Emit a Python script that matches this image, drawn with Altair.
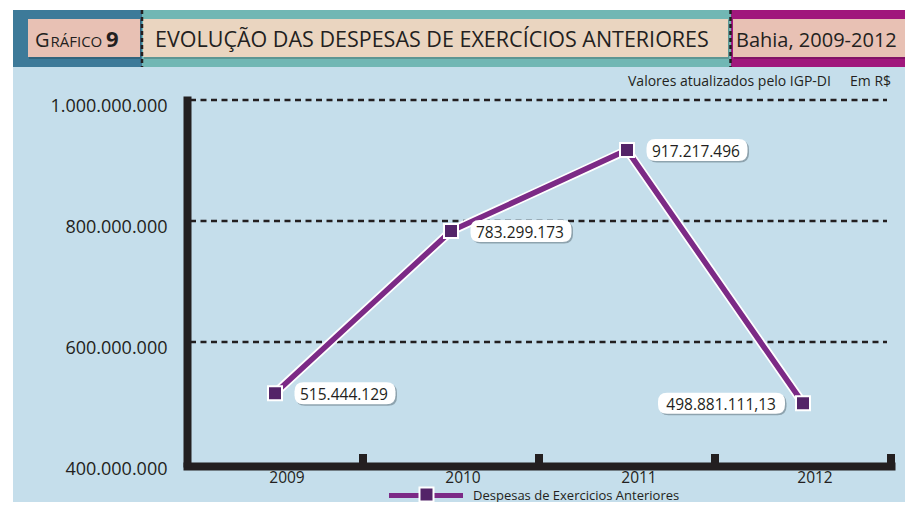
import altair as alt
import pandas as pd

# ---------------- data ----------------
years = ["2009", "2010", "2011", "2012"]
values = [515444129, 783299173, 917217496, 498881111.13]
point_labels = ["515.444.129", "783.299.173", "917.217.496", "498.881.111,13"]
label_side = ["right", "right", "right", "left"]
y_ticks = [400000000, 600000000, 800000000, 1000000000]
grid_values = [600000000, 800000000, 1000000000]

chart_number = "9"
chart_word_first = "G"
chart_word_rest = "RÁFICO"
title_text = "EVOLUÇÃO DAS DESPESAS DE EXERCÍCIOS ANTERIORES"
place_text = "Bahia, 2009-2012"
note_left = "Valores atualizados pelo IGP-DI"
note_right = "Em R$"
series_name = "Despesas de Exercicios Anteriores"

df = pd.DataFrame({"year": years, "value": values, "label": point_labels, "side": label_side})
grid_df = pd.DataFrame({"value": grid_values})
one = pd.DataFrame({"k": [0]})

FONT = "Open Sans"
INK = "#231f20"
PURPLE = "#7c2a86"
DARK_PURPLE = "#532468"
BG = "#c5deeb"

W, H = 704, 363


def rounded_box(w, h, r):
    s = w / 2.0
    hx = 1.0
    hy = (h / 2.0) / s
    rr = r / s
    return (
        f"M {-hx + rr},{-hy} L {hx - rr},{-hy} Q {hx},{-hy} {hx},{-hy + rr} "
        f"L {hx},{hy - rr} Q {hx},{hy} {hx - rr},{hy} L {-hx + rr},{hy} "
        f"Q {-hx},{hy} {-hx},{hy - rr} L {-hx},{-hy + rr} Q {-hx},{-hy} {-hx + rr},{-hy} Z"
    )


x_scale = alt.Scale(type="band", domain=years, paddingInner=0, paddingOuter=0)
x_axis = alt.Axis(
    title=None, ticks=False, tickSize=0, grid=False,
    domain=True, domainColor=INK, domainWidth=8, domainCap="square",
    offset=3, labelFont=FONT, labelFontSize=15.5, labelColor=INK,
    labelPadding=4, labelOffset=12, labelAngle=0,
)
y_scale = alt.Scale(domain=[400000000, 1000000000], nice=False, zero=False)
y_axis = alt.Axis(
    title=None, values=y_ticks, ticks=False, tickSize=0, grid=False,
    domain=True, domainColor=INK, domainWidth=8, domainCap="square",
    labelFont=FONT, labelFontSize=18, labelColor=INK, labelPadding=20,
    labelBaseline="middle", labelOffset=6,
    labelExpr="replace(format(datum.value, ','), regexp(',', 'g'), '.')",
)


def X(**kw):
    return alt.X("year:N", scale=x_scale, axis=x_axis, sort=years, **kw)


def Y():
    return alt.Y("value:Q", scale=y_scale, axis=y_axis)


def rect(x1, x2, y1, y2, color, opacity=1):
    return alt.Chart(one).mark_rect(color=color, opacity=opacity).encode(
        x=alt.value(x1), x2=alt.value(x2), y=alt.value(y1), y2=alt.value(y2)
    )


def text(x, y, s, size, weight="normal", align="left", baseline="alphabetic", color=INK):
    return alt.Chart(one).mark_text(
        font=FONT, fontSize=size, fontWeight=weight, align=align,
        baseline=baseline, color=color,
    ).encode(x=alt.value(x), y=alt.value(y), text=alt.value(s))


# origin of plot area in page: (187, 100)
ox, oy = 187, 100

deco = [
    rect(-179, -174, -92, 410, "white"),
    rect(-179, 726, -92, -90, "white"),
    rect(13 - ox, 142 - ox, 10 - oy, 67 - oy, "#3d7a99"),
    rect(142 - ox, 731 - ox, 10 - oy, 67 - oy, "#71b7b4"),
    rect(731 - ox, 913 - ox, 10 - oy, 67 - oy, "#a0177c"),
    rect(29 - ox, 141 - ox, 20 - oy, 59 - oy, "#000000", 0.18),
    rect(144 - ox, 729 - ox, 20 - oy, 59 - oy, "#000000", 0.18),
    rect(734 - ox, 909 - ox, 20 - oy, 59 - oy, "#000000", 0.18),
    rect(28 - ox, 140 - ox, 19 - oy, 57 - oy, "#e8c1b4"),
    rect(143 - ox, 728 - ox, 19 - oy, 57 - oy, "#ead5c0"),
    rect(733 - ox, 908 - ox, 19 - oy, 57 - oy, "#e8c1b4"),
    alt.Chart(one).mark_rule(color=INK, strokeWidth=2.5, strokeDash=[4, 3]).encode(
        x=alt.value(142 - ox), y=alt.value(10 - oy), y2=alt.value(67 - oy)
    ),
    alt.Chart(one).mark_rule(color=INK, strokeWidth=2.5, strokeDash=[4, 3]).encode(
        x=alt.value(730.5 - ox), y=alt.value(10 - oy), y2=alt.value(67 - oy)
    ),
    text(35 - ox, 46.5 - oy, chart_word_first, 20),
    text(50.5 - ox, 46.5 - oy, chart_word_rest, 15),
    text(106 - ox, 46.5 - oy, chart_number, 22, weight="bold"),
    text(155 - ox, 46.5 - oy, title_text, 21.5),
    text(736 - ox, 46.5 - oy, place_text, 20),
    text(628 - ox, 85.5 - oy, note_left, 14),
    text(850 - ox, 85.5 - oy, note_right, 14),
]

grid = alt.Chart(grid_df).mark_rule(color=INK, strokeWidth=2.5, strokeDash=[6, 4.5]).encode(
    y=Y(), x=alt.value(3), x2=alt.value(700)
)

ticks = alt.Chart(df).mark_rule(color=INK, strokeWidth=8).encode(
    x=X(bandPosition=1), y=alt.value(354), y2=alt.value(363)
)

halo = alt.Chart(df).mark_line(color="white", strokeWidth=9).encode(x=X(), y=Y())
line = alt.Chart(df).mark_line(color=PURPLE, strokeWidth=5.5).encode(x=X(), y=Y())
squares = alt.Chart(df).mark_square(
    size=196, color=DARK_PURPLE, stroke="white", strokeWidth=2, opacity=1, filled=True
).encode(x=X(), y=Y())

right_df = df[df.side == "right"]
left_df = df[df.side == "left"]

box_r = rounded_box(101, 22, 9)
box_l = rounded_box(127, 21, 9)

shadow_r = alt.Chart(right_df).mark_point(
    shape=box_r, size=101 * 101, filled=True, color="#8ea3ae", opacity=1, strokeWidth=0,
    xOffset=71.5, yOffset=1.5,
).encode(x=X(), y=Y())
box_right = alt.Chart(right_df).mark_point(
    shape=box_r, size=101 * 101, filled=True, color="white", opacity=1, strokeWidth=0,
    xOffset=70, yOffset=0,
).encode(x=X(), y=Y())
shadow_l = alt.Chart(left_df).mark_point(
    shape=box_l, size=127 * 127, filled=True, color="#8ea3ae", opacity=1, strokeWidth=0,
    xOffset=-80, yOffset=1.5,
).encode(x=X(), y=Y())
box_left = alt.Chart(left_df).mark_point(
    shape=box_l, size=127 * 127, filled=True, color="white", opacity=1, strokeWidth=0,
    xOffset=-81.5, yOffset=0,
).encode(x=X(), y=Y())

text_right = alt.Chart(right_df).mark_text(
    font=FONT, fontSize=15.5, color=INK, align="left", baseline="middle", dx=25, dy=1.5
).encode(x=X(), y=Y(), text="label:N")
text_left = alt.Chart(left_df).mark_text(
    font=FONT, fontSize=15.5, color=INK, align="right", baseline="middle", dx=-27, dy=1.5
).encode(x=X(), y=Y(), text="label:N")

legend = [
    alt.Chart(one).mark_rule(color=PURPLE, strokeWidth=5).encode(
        x=alt.value(389 - ox), x2=alt.value(463 - ox), y=alt.value(495.5 - oy)
    ),
    alt.Chart(one).mark_square(
        size=196, color=DARK_PURPLE, stroke="white", strokeWidth=2, opacity=1, filled=True
    ).encode(x=alt.value(426.5 - ox), y=alt.value(494.5 - oy)),
    text(473 - ox, 495.5 - oy, series_name, 13, baseline="middle"),
]

chart = alt.layer(
    *deco, grid, ticks, halo, line, squares,
    shadow_r, box_right, shadow_l, box_left, text_right, text_left, *legend,
).properties(
    width=W, height=H,
    padding={"left": 179, "top": 92, "right": 14, "bottom": 39},
    autosize=alt.AutoSizeParams(type="none"),
).configure(background=BG).configure_view(stroke=None)

chart.save("out.html", embed_options={"renderer": "svg", "actions": False})
